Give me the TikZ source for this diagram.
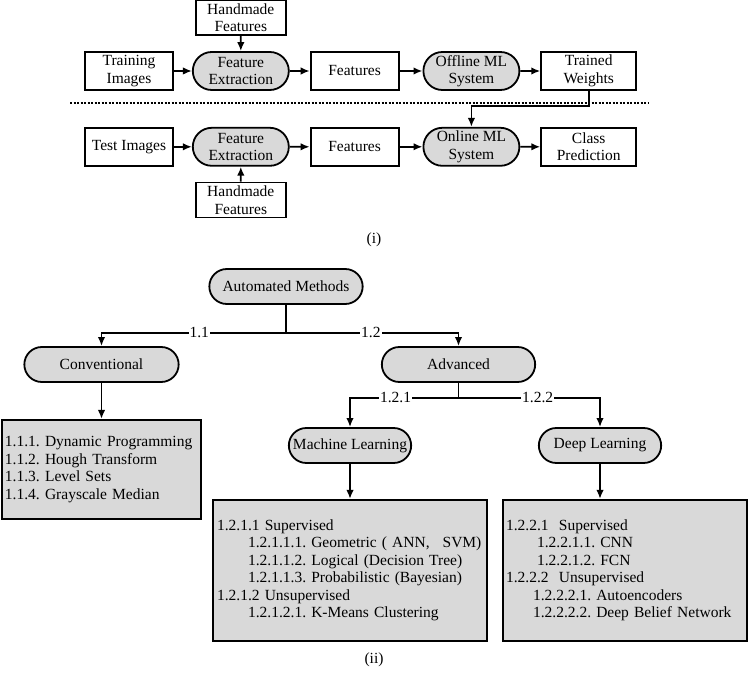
\documentclass[tikz,border=0pt]{standalone}
\usepackage{fontspec}
\setmainfont{Liberation Serif}
\usetikzlibrary{shapes,arrows.meta}
\usetikzlibrary{positioning}

\begin{document}
\frenchspacing
\begin{tikzpicture}[x=1pt,y=-1pt,node distance=20pt,>={Latex[length=9pt,width=7.5pt]},line width=1.8pt]
\tikzstyle{every node}=[font=\fontsize{15.5}{17.5}\selectfont]
\tikzstyle{box}=[draw,rectangle,align=center,minimum width=88pt,minimum height=38pt,inner sep=2pt]
\tikzstyle{proc}=[draw,rounded rectangle,fill=black!15,align=center,minimum width=100pt,minimum height=38pt,inner sep=2pt]
\tikzstyle{cat}=[draw,rounded rectangle,fill=black!15,minimum width=160pt,minimum height=35pt]
\tikzstyle{list}=[draw,rectangle,fill=black!15,align=left,inner xsep=3pt]
\tikzstyle{lbl}=[fill=white,inner xsep=1pt,inner ysep=0pt]
\useasboundingbox (0,0) rectangle (749,676);

% (i) training and test pipelines
\path node[box] (train) at (129,71) {Training\\Images};
\path node[proc,right=18pt of train] (fe1) {Feature\\Extraction};
\path node[box,right=of fe1] (feat1) {Features};
\path node[proc,right=23pt of feat1] (off) {Offline ML\\System};
\path node[box,minimum width=95pt,right=of off] (tw) {Trained\\Weights};
\path node[box,minimum width=90pt,minimum height=35pt,above=15pt of fe1] (hm1) {Handmade\\Features};
\path[->] (train) edge (fe1) (fe1) edge (feat1) (feat1) edge (off) (off) edge (tw);
\path[->] (hm1) edge (fe1);

\coordinate (sepl) at (70,103);
\coordinate (sepr) at (648,103);
\draw[line width=1.3pt,dash pattern=on 2pt off 1.5pt] (sepl) -- (sepr);

\path node[box,below=36pt of train] (test) {Test Images};
\path node[proc,right=18pt of test] (fe2) {Feature\\Extraction};
\path node[box,right=of fe2] (feat2) {Features};
\path node[proc,right=23pt of feat2] (onl) {Online ML\\System};
\path node[box,minimum width=95pt,right=of onl] (cls) {Class\\Prediction};
\path node[box,minimum width=90pt,minimum height=35pt,below=15pt of fe2] (hm2) {Handmade\\Features};
\path[->] (test) edge (fe2) (fe2) edge (feat2) (feat2) edge (onl) (onl) edge (cls);
\path[->] (hm2) edge (fe2);
\draw[->] (tw.south) -- ++(0,15) -| (onl.north);

\node (capi) at (374,240) {(i)};

% (ii) taxonomy
\path node[cat] (am) at (286,286.5) {Automated Methods};
\path node[cat,minimum width=161pt] (conv) at (101.5,364.5) {Conventional};
\path node[cat] (adv) at (458.5,364.5) {Advanced};
\path node[cat,minimum width=129pt] (ml) at (350,445.5) {Machine Learning};
\path node[cat,minimum width=129pt] (dl) at (600,445.5) {Deep Learning};

\draw (am.south) -- ++(0,28) coordinate (amj);
\draw[->] (amj) -| node[lbl,pos=0.235] {1.1} (conv.north);
\draw[->] (amj) -| node[lbl,pos=0.246] {1.2} (adv.north);
\draw (adv.south) -- ++(0,15) coordinate (advj);
\draw[->] (advj) -| node[lbl,pos=0.29] {1.2.1} (ml.north);
\draw[->] (advj) -| node[lbl,pos=0.28] {1.2.2} (dl.north);

\path node[list,text width=193pt,minimum height=99pt,below=36pt of conv] (convl) {1.1.1. Dynamic Programming\\
1.1.2. Hough Transform\\
1.1.3. Level Sets\\
1.1.4. Grayscale Median};
\path node[list,inner xsep=4pt,text width=266pt,minimum height=141pt,below=35pt of ml] (mll) {1.2.1.1 Supervised\\
\hspace*{31pt}1.2.1.1.1. Geometric ( ANN,\hspace{13pt}SVM)\\
\hspace*{31pt}1.2.1.1.2. Logical (Decision Tree)\\
\hspace*{31pt}1.2.1.1.3. Probabilistic (Bayesian)\\
1.2.1.2 Unsupervised\\
\hspace*{31pt}1.2.1.2.1. K-Means Clustering};
\path node[list,text width=238pt,minimum height=141pt,below=35pt of dl,xshift=25pt] (dll) {1.2.2.1\ \ Supervised\\
\hspace*{31pt}1.2.2.1.1. CNN\\
\hspace*{31pt}1.2.2.1.2. FCN\\
1.2.2.2\ \ Unsupervised\\
\hspace*{27pt}1.2.2.2.1. Autoencoders\\
\hspace*{27pt}1.2.2.2.2. Deep Belief Network};

\draw[->] (conv.south) -- (conv.south |- convl.north);
\draw[->] (ml.south) -- (ml.south |- mll.north);
\draw[->] (dl.south) -- (dl.south |- dll.north);

\node (capii) at (374,660) {(ii)};
\end{tikzpicture}
\end{document}
